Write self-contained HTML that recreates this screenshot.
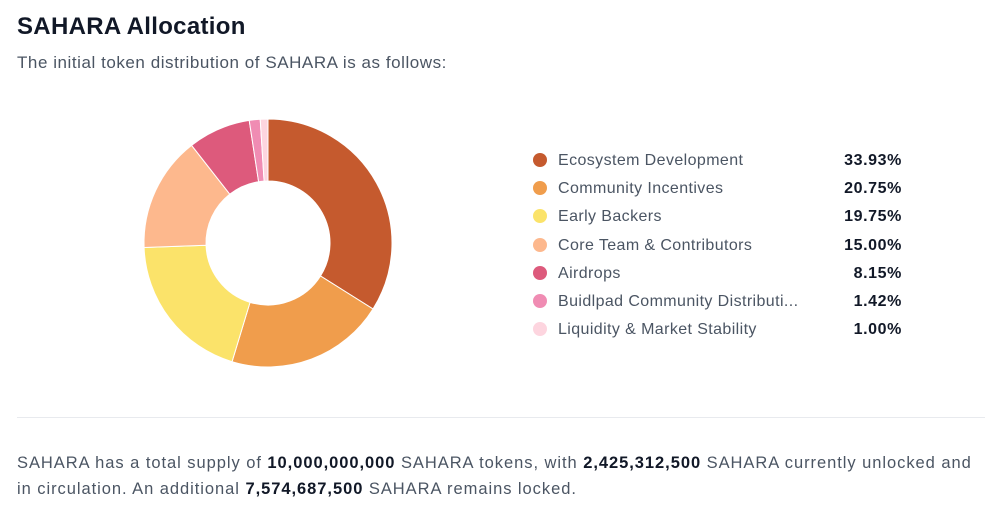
<!DOCTYPE html>
<html><head><meta charset="utf-8"><style>
body{margin:0;width:1000px;height:512px;background:#fff;font-family:"Liberation Sans",sans-serif;overflow:hidden;position:relative}
.t{position:absolute;left:17px;top:13px;font-size:24px;font-weight:bold;color:#111827;letter-spacing:0.3px}
.s{position:absolute;left:17px;top:53px;font-size:17px;color:#4b5563;letter-spacing:0.55px}
.hr{position:absolute;left:17px;top:417px;width:968px;height:1px;background:#e8eaee}
.b{position:absolute;left:17px;top:450px;font-size:16.5px;line-height:26px;color:#4b5563;width:990px;letter-spacing:0.95px;white-space:nowrap}
.b b{color:#111827}
.lg{position:absolute;left:532px;top:150px;width:370px}
.row{position:relative;height:28.2px;font-size:16px;color:#4b5563;letter-spacing:0.4px}
.dot{position:absolute;left:1px;top:3px;width:14px;height:14px;border-radius:50%}
.nm{position:absolute;left:26px;top:2px;white-space:nowrap}
.pc{position:absolute;right:0;top:2px;font-weight:bold;color:#111827;letter-spacing:0.6px}
</style></head><body>
<div class="t">SAHARA Allocation</div>
<div class="s">The initial token distribution of SAHARA is as follows:</div>
<svg id="pie" width="1000" height="512" style="position:absolute;left:0;top:0"></svg>
<div class="lg" id="lg"></div>
<div class="hr"></div>
<div class="b">SAHARA has a total supply of <b>10,000,000,000</b> SAHARA tokens, with <b>2,425,312,500</b> SAHARA currently unlocked and<br>in circulation. An additional <b>7,574,687,500</b> SAHARA remains locked.</div>
<script>
const categories=["Ecosystem Development","Community Incentives","Early Backers","Core Team & Contributors","Airdrops","Buidlpad Community Distributi...","Liquidity & Market Stability"];
const values=[33.93,20.75,19.75,15.00,8.15,1.42,1.00];
const colors=["#c55a2e","#f09d4c","#fbe36a","#fdb88d","#dd5a7c","#f08cb3","#fdd5df"];
const svg=document.getElementById('pie');
const cx=268,cy=243,R=124,r=62;
const total=values.reduce((a,b)=>a+b,0);
let a0=0;
function pt(a,rad){return [cx+rad*Math.sin(a),cy-rad*Math.cos(a)];}
values.forEach((v,i)=>{
 const a1=a0+v/total*2*Math.PI;
 const [x1,y1]=pt(a0,R),[x2,y2]=pt(a1,R),[x3,y3]=pt(a1,r),[x4,y4]=pt(a0,r);
 const lf=(a1-a0)>Math.PI?1:0;
 const p=document.createElementNS('http://www.w3.org/2000/svg','path');
 p.setAttribute('d',`M${x1},${y1}A${R},${R} 0 ${lf} 1 ${x2},${y2}L${x3},${y3}A${r},${r} 0 ${lf} 0 ${x4},${y4}Z`);
 p.setAttribute('fill',colors[i]);p.setAttribute('stroke','#fff');p.setAttribute('stroke-width','1');
 
 
 svg.appendChild(p);a0=a1;
});
const lg=document.getElementById('lg');
categories.forEach((c,i)=>{
 const d=document.createElement('div');d.className='row';
 
 
 d.innerHTML=`<span class="dot" style="background:${colors[i]}"></span><span class="nm"></span><span class="pc">${values[i].toFixed(2)}%</span>`;
 d.querySelector('.nm').textContent=c;
 lg.appendChild(d);
});
</script>
</body></html>
